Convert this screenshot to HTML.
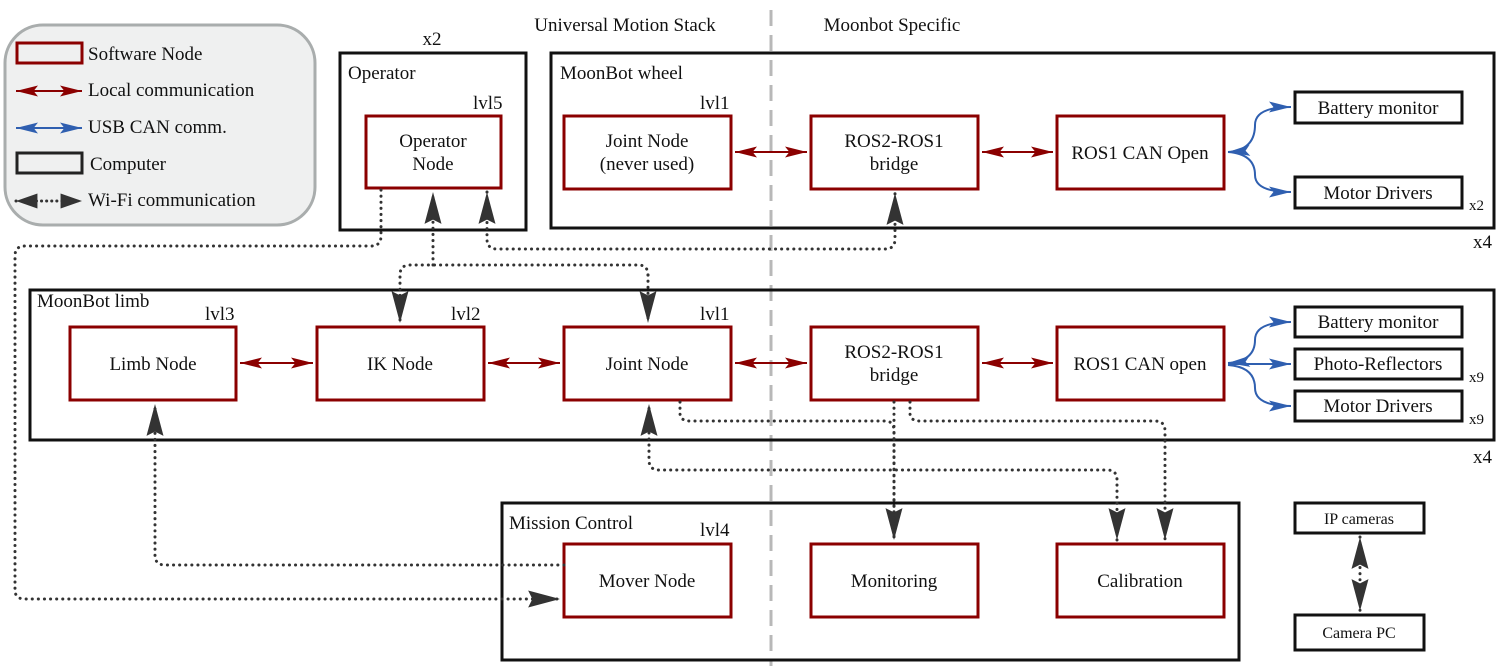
<!DOCTYPE html>
<html><head><meta charset="utf-8"><style>
html,body{margin:0;padding:0;background:#fff}
svg{display:block;font-family:"Liberation Serif","DejaVu Serif",serif}
svg text{font-family:"Liberation Serif","DejaVu Serif",serif;fill:#111}
</style></head><body>
<svg width="1499" height="666" viewBox="0 0 1499 666" xmlns="http://www.w3.org/2000/svg" font-family="Liberation Serif, DejaVu Serif, serif">
<defs>
<marker id="ar" viewBox="0 0 20 10" refX="20" refY="5" markerWidth="22" markerHeight="11" orient="auto-start-reverse" markerUnits="userSpaceOnUse"><path d="M0,0 L20,5 L0,10 L4,5 z" fill="#8b0000"/></marker>
<marker id="ab" viewBox="0 0 20 10" refX="20" refY="5" markerWidth="22" markerHeight="11" orient="auto-start-reverse" markerUnits="userSpaceOnUse"><path d="M0,0 L20,5 L0,10 L4,5 z" fill="#2f5fb0"/></marker>
<marker id="ak" viewBox="0 0 30 16" refX="30" refY="8" markerWidth="32" markerHeight="17" orient="auto-start-reverse" markerUnits="userSpaceOnUse"><path d="M0,0 L30,8 L0,16 L4,8 z" fill="#333"/></marker>
<marker id="akl" viewBox="0 0 20 14" refX="20" refY="7" markerWidth="22" markerHeight="15" orient="auto-start-reverse" markerUnits="userSpaceOnUse"><path d="M0,0 L20,7 L0,14 z" fill="#333"/></marker>
</defs>

<line x1="771" y1="10" x2="771" y2="666" stroke="#b8b8b8" stroke-width="3" stroke-dasharray="16,9"/>
<text x="625" y="31" font-size="19" text-anchor="middle">Universal Motion Stack</text>
<text x="892" y="31" font-size="19" text-anchor="middle">Moonbot Specific</text>

<rect x="5" y="25" width="310" height="200" rx="38" fill="#eff0f0" stroke="#a9adad" stroke-width="3"/>
<rect x="17" y="43" width="65" height="20" fill="none" stroke="#8b0000" stroke-width="3"/>
<text x="88" y="60" font-size="19">Software Node</text>
<line x1="16" y1="91" x2="82" y2="91" stroke="#8b0000" stroke-width="2" marker-start="url(#ar)" marker-end="url(#ar)"/>
<text x="88" y="96" font-size="19">Local communication</text>
<line x1="16" y1="128" x2="82" y2="128" stroke="#2f5fb0" stroke-width="2" marker-start="url(#ab)" marker-end="url(#ab)"/>
<text x="88" y="133" font-size="19">USB CAN comm.</text>
<rect x="17" y="153" width="65" height="20" fill="none" stroke="#222" stroke-width="3"/>
<text x="90" y="170" font-size="19">Computer</text>
<line x1="16" y1="201" x2="82" y2="201" stroke="#333" stroke-width="3" stroke-dasharray="0.1,5" stroke-linecap="round" marker-start="url(#akl)" marker-end="url(#akl)"/>
<text x="88" y="206" font-size="19">Wi-Fi communication</text>

<g fill="none" stroke="#111" stroke-width="3">
<rect x="340" y="53" width="186" height="177"/>
<rect x="551" y="53" width="943" height="175"/>
<rect x="30" y="290" width="1464" height="150"/>
<rect x="502" y="503" width="737" height="157"/>
<rect x="1295" y="92" width="167" height="31"/>
<rect x="1295" y="177" width="167" height="31"/>
<rect x="1295" y="307" width="167" height="30"/>
<rect x="1295" y="349" width="167" height="30"/>
<rect x="1295" y="391" width="167" height="30"/>
<rect x="1295" y="503" width="129" height="30"/>
<rect x="1295" y="615" width="129" height="35"/>
</g>
<g fill="#fff" stroke="#8b0000" stroke-width="3">
<rect x="366" y="116" width="135" height="72"/>
<rect x="564" y="116" width="167" height="73"/>
<rect x="811" y="116" width="167" height="73"/>
<rect x="1057" y="116" width="167" height="73"/>
<rect x="70" y="327" width="166" height="73"/>
<rect x="317" y="327" width="167" height="73"/>
<rect x="564" y="327" width="167" height="73"/>
<rect x="811" y="327" width="167" height="73"/>
<rect x="1057" y="327" width="167" height="73"/>
<rect x="564" y="544" width="167" height="73"/>
<rect x="811" y="544" width="167" height="73"/>
<rect x="1057" y="544" width="167" height="73"/>
</g>

<g font-size="19">
<text x="432" y="45" text-anchor="middle">x2</text>
<text x="348" y="79">Operator</text>
<text x="560" y="79">MoonBot wheel</text>
<text x="37" y="307">MoonBot limb</text>
<text x="509" y="529">Mission Control</text>
<text x="473" y="109">lvl5</text>
<text x="700" y="109">lvl1</text>
<text x="205" y="320">lvl3</text>
<text x="451" y="320">lvl2</text>
<text x="700" y="320">lvl1</text>
<text x="700" y="536">lvl4</text>
<text x="1473" y="248">x4</text>
<text x="1473" y="463">x4</text>
</g>
<g font-size="15">
<text x="1469" y="210">x2</text>
<text x="1469" y="382">x9</text>
<text x="1469" y="424">x9</text>
</g>

<g font-size="19" text-anchor="middle">
<text x="433" y="147">Operator</text><text x="433" y="170">Node</text>
<text x="647" y="147">Joint Node</text><text x="647" y="170">(never used)</text>
<text x="894" y="147">ROS2-ROS1</text><text x="894" y="170">bridge</text>
<text x="1140" y="159">ROS1 CAN Open</text>
<text x="153" y="370">Limb Node</text>
<text x="400" y="370">IK Node</text>
<text x="647" y="370">Joint Node</text>
<text x="894" y="358">ROS2-ROS1</text><text x="894" y="381">bridge</text>
<text x="1140" y="370">ROS1 CAN open</text>
<text x="647" y="587">Mover Node</text>
<text x="894" y="587">Monitoring</text>
<text x="1140" y="587">Calibration</text>
<text x="1378" y="114">Battery monitor</text>
<text x="1378" y="199">Motor Drivers</text>
<text x="1378" y="328">Battery monitor</text>
<text x="1378" y="370">Photo-Reflectors</text>
<text x="1378" y="412">Motor Drivers</text>
</g>
<g font-size="16" text-anchor="middle">
<text x="1359" y="524">IP cameras</text>
<text x="1359" y="638">Camera PC</text>
</g>

<g stroke="#8b0000" stroke-width="2" fill="none">
<line x1="735" y1="152" x2="807" y2="152" marker-start="url(#ar)" marker-end="url(#ar)"/>
<line x1="982" y1="152" x2="1053" y2="152" marker-start="url(#ar)" marker-end="url(#ar)"/>
<line x1="240" y1="363" x2="313" y2="363" marker-start="url(#ar)" marker-end="url(#ar)"/>
<line x1="488" y1="363" x2="560" y2="363" marker-start="url(#ar)" marker-end="url(#ar)"/>
<line x1="735" y1="363" x2="807" y2="363" marker-start="url(#ar)" marker-end="url(#ar)"/>
<line x1="982" y1="363" x2="1053" y2="363" marker-start="url(#ar)" marker-end="url(#ar)"/>
</g>
<g stroke="#2f5fb0" stroke-width="2" fill="none">
<path d="M1228,152 Q1255,150 1255,125 Q1255,107 1291,107" marker-start="url(#ab)" marker-end="url(#ab)"/>
<path d="M1228,152 Q1255,154 1255,175 Q1255,192 1291,192" marker-end="url(#ab)"/>
<path d="M1228,363 Q1255,361 1255,340 Q1255,322 1291,322" marker-start="url(#ab)" marker-end="url(#ab)"/>
<line x1="1228" y1="364" x2="1291" y2="364" marker-end="url(#ab)"/>
<path d="M1228,365 Q1255,367 1255,388 Q1255,406 1291,406" marker-end="url(#ab)"/>
</g>

<g stroke="#333" stroke-width="3" fill="none" stroke-dasharray="0.1,6" stroke-linecap="round">
<path d="M381,190 L381,236 Q381,246 371,246 L25,246 Q15,246 15,256 L15,590 Q15,599 25,599 L560,599" marker-end="url(#ak)"/>
<path d="M433,265 L433,192" marker-end="url(#ak)"/>
<path d="M648,275 Q648,265 638,265 L410,265 Q400,265 400,275 L400,323" marker-end="url(#ak)"/>
<path d="M648,275 L648,323" marker-end="url(#ak)"/>
<path d="M487,192 L487,239 Q487,249 497,249 L885,249 Q895,249 895,239 L895,193" marker-start="url(#ak)" marker-end="url(#ak)"/>
<path d="M564,565 L165,565 Q155,565 155,555 L155,404" marker-end="url(#ak)"/>
<path d="M1117,540 L1117,480 Q1117,470 1107,470 L659,470 Q649,470 649,460 L649,404" marker-start="url(#ak)" marker-end="url(#ak)"/>
<path d="M680,402 L680,413 Q680,421 690,421 L885,421 Q894,421 894,431 L894,540" marker-end="url(#ak)"/>
<path d="M894,402 L894,540"/>
<path d="M910,402 L910,413 Q910,421 920,421 L1155,421 Q1165,421 1165,431 L1165,540" marker-end="url(#ak)"/>
<path d="M1360,537 L1360,611" marker-start="url(#ak)" marker-end="url(#ak)"/>
</g>
</svg>
</body></html>
